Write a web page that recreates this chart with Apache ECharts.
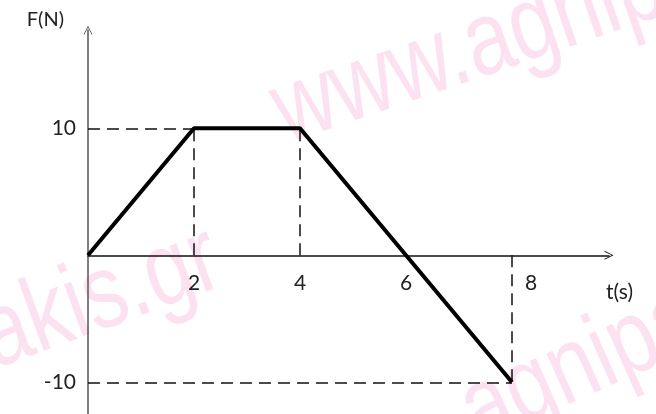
<!DOCTYPE html>
<html>
<head>
<meta charset="utf-8">
<script src="https://cdn.jsdelivr.net/npm/echarts@6/dist/echarts.min.js"></script>
<style>
html,body{margin:0;padding:0;background:#fff}
#main{width:656px;height:414px}
</style>
</head>
<body>
<div id="main"></div>
<script>
// F(t) γραφημα
var tValues = [0, 2, 4, 8];
var fValues = [0, 10, 10, -10];
var tTicks = [2, 4, 6, 8];
var fTicks = [10, -10];

var chart = echarts.init(document.getElementById('main'));

// γραμμες βοηθειας (διακεκομμενες)
var guides = [];
for (var i = 1; i < tValues.length; i++) {
  guides.push([{coord: [tValues[i], 0]}, {coord: [tValues[i], fValues[i]]}]);
  if (fValues[i] !== fValues[i - 1]) {
    guides.push([{coord: [0, fValues[i]]}, {coord: [tValues[i], fValues[i]]}]);
  }
}

var chevron = 'path://M0,10 L5,0 L10,10 L9,10 L5,2 L1,10 Z';
var font = 'Lato';
var yMin = -12.5, yMax = 17.74;
var gridTop = 30, gridBottom = 0, H = 414;
// θεση του αξονα t στο F=0
var zeroPx = gridTop + (yMax / (yMax - yMin)) * (H - gridTop - gridBottom);

var wm = {fontSize: 84, fontFamily: 'Liberation Sans', fill: '#fce1f0', textVerticalAlign: 'bottom'};

var option = {
  backgroundColor: '#fff',
  animation: false,
  graphic: [
    {type: 'text', x: 294, y: 166, rotation: 0.33, scaleY: 1.25, z: -10,
     style: Object.assign({text: 'www.agnipakis.gr'}, wm)},
    {type: 'text', x: 235, y: 306, rotation: 0.35, scaleY: 1.25, z: -10,
     style: Object.assign({text: 'www.agnipakis.gr', textAlign: 'right'}, wm)},
    {type: 'text', x: 488, y: 466, rotation: 0.42, scaleY: 1.25, z: -10,
     style: Object.assign({text: 'agnipakis.gr'}, wm)}
  ],
  grid: {left: 88, right: 47, top: gridTop, bottom: gridBottom, outerBoundsMode: 'none'},
  xAxis: {
    type: 'value',
    min: 0,
    max: 9.83,
    offset: -(H - gridBottom - zeroPx),
    name: 't(s)',
    nameLocation: 'end',
    nameGap: -3,
    nameTextStyle: {fontFamily: font, fontSize: 21, color: '#222', align: 'left', verticalAlign: 'top', padding: [26, 0, 0, 0]},
    axisLine: {onZero: false, symbol: ['none', chevron], symbolSize: [12, 9], lineStyle: {color: '#111', width: 1.5}},
    axisTick: {show: false},
    splitLine: {show: false},
    axisLabel: {
      customValues: tTicks,
      margin: 17,
      fontFamily: font,
      fontSize: 21,
      color: '#222',
      formatter: function (v) { return v === 8 ? '{s|8}' : String(v); },
      rich: {s: {fontFamily: font, fontSize: 21, color: '#222', padding: [0, 0, 0, 38]}}
    }
  },
  yAxis: {
    type: 'value',
    min: yMin,
    max: yMax,
    name: 'F(N)',
    nameLocation: 'end',
    nameGap: 10,
    nameTextStyle: {fontFamily: font, fontSize: 20, color: '#222', align: 'right', verticalAlign: 'middle', padding: [0, 24, 0, 0]},
    axisLine: {symbol: ['none', chevron], symbolSize: [12, 9], lineStyle: {color: '#555', width: 1.5}},
    axisTick: {show: false},
    splitLine: {show: false},
    axisLabel: {customValues: fTicks, margin: 12, fontFamily: font, fontSize: 21, color: '#222'}
  },
  series: [
    {
      type: 'line',
      data: tValues.map(function (t, i) { return [t, fValues[i]]; }),
      showSymbol: false,
      lineStyle: {color: '#000', width: 4},
      z: 5,
      markLine: {
        silent: true,
        symbol: 'none',
        label: {show: false},
        lineStyle: {color: '#111', type: [12, 7], width: 1.5},
        data: guides
      }
    }
  ]
};

chart.setOption(option);
</script>
</body>
</html>
